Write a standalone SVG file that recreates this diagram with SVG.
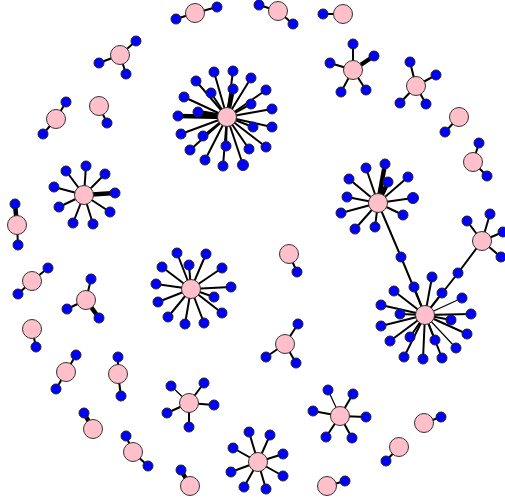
<svg xmlns="http://www.w3.org/2000/svg" width="505" height="502" viewBox="0 0 505 502">
<style>
.p{fill:#FFC0CB;stroke:#333;stroke-width:1}
.b{fill:#0000FF;stroke:#222;stroke-width:1}
.e line{stroke:#000;stroke-width:2}
.e line.t{stroke-width:4.5}
.e line.s{stroke-width:1.2}
</style>
<rect width="505" height="502" fill="#fff"/>
<g id="edges" class="e">
<line x1="195" y1="13" x2="176" y2="19"/><line x1="195" y1="13" x2="217" y2="7"/>
<line x1="278" y1="11" x2="259" y2="5"/><line x1="278" y1="11" x2="293" y2="24"/>
<line x1="343" y1="14" x2="323" y2="14"/>
<line x1="120" y1="55" x2="136" y2="41"/><line x1="120" y1="55" x2="99" y2="63"/><line x1="120" y1="55" x2="126" y2="74"/>
<line x1="99" y1="106" x2="107" y2="123"/>
<line x1="56" y1="119" x2="66" y2="102"/><line x1="56" y1="119" x2="43" y2="134"/>
<line x1="227" y1="117" x2="214" y2="72"/><line x1="227" y1="117" x2="233" y2="71"/><line x1="227" y1="117" x2="251" y2="78"/><line x1="227" y1="117" x2="266" y2="90"/><line x1="227" y1="117" x2="272" y2="109"/><line x1="227" y1="117" x2="272" y2="127"/><line x1="227" y1="117" x2="253" y2="127"/><line x1="227" y1="117" x2="251" y2="104"/><line x1="227" y1="117" x2="233" y2="89" class="t"/><line x1="227" y1="117" x2="211" y2="93"/><line x1="227" y1="117" x2="196" y2="81"/><line x1="227" y1="117" x2="184" y2="97"/><line x1="227" y1="117" x2="178" y2="116" class="t"/><line x1="227" y1="117" x2="198" y2="112" class="t"/><line x1="227" y1="117" x2="181" y2="134"/><line x1="227" y1="117" x2="203" y2="136"/><line x1="227" y1="117" x2="190" y2="150"/><line x1="227" y1="117" x2="226" y2="146"/><line x1="227" y1="117" x2="249" y2="149"/><line x1="227" y1="117" x2="266" y2="147"/><line x1="227" y1="117" x2="205" y2="160"/><line x1="227" y1="117" x2="223" y2="166"/><line x1="227" y1="117" x2="243" y2="165"/>
<line x1="84" y1="195" x2="86" y2="166"/><line x1="84" y1="195" x2="66" y2="171"/><line x1="84" y1="195" x2="105" y2="174"/><line x1="84" y1="195" x2="54" y2="187"/><line x1="84" y1="195" x2="115" y2="193" class="t"/><line x1="84" y1="195" x2="59" y2="207"/><line x1="84" y1="195" x2="110" y2="212"/><line x1="84" y1="195" x2="73" y2="223"/><line x1="84" y1="195" x2="93" y2="224"/>
<line x1="17" y1="225" x2="15" y2="204" class="t"/><line x1="17" y1="225" x2="18" y2="245"/>
<line x1="378" y1="203" x2="366" y2="168"/><line x1="378" y1="203" x2="385" y2="164" class="t"/><line x1="378" y1="203" x2="388" y2="182" class="t"/><line x1="378" y1="203" x2="349" y2="179"/><line x1="378" y1="203" x2="408" y2="177"/><line x1="378" y1="203" x2="347" y2="197"/><line x1="378" y1="203" x2="413" y2="198"/><line x1="378" y1="203" x2="341" y2="213"/><line x1="378" y1="203" x2="403" y2="215"/><line x1="378" y1="203" x2="355" y2="229"/><line x1="378" y1="203" x2="375" y2="227"/><line x1="378" y1="203" x2="401" y2="257"/>
<line x1="459" y1="117" x2="445" y2="132"/>
<line x1="473" y1="162" x2="479" y2="143"/><line x1="473" y1="162" x2="487" y2="176"/>
<line x1="353" y1="70" x2="353" y2="44"/><line x1="353" y1="70" x2="374" y2="56" class="t"/><line x1="353" y1="70" x2="341" y2="92"/><line x1="353" y1="70" x2="366" y2="90"/><line x1="353" y1="70" x2="330" y2="63"/>
<line x1="416" y1="86" x2="410" y2="62"/><line x1="416" y1="86" x2="436" y2="75"/><line x1="416" y1="86" x2="400" y2="103"/><line x1="416" y1="86" x2="426" y2="104"/>
<line x1="482" y1="241" x2="467" y2="221"/><line x1="482" y1="241" x2="490" y2="214"/><line x1="482" y1="241" x2="501" y2="257"/><line x1="482" y1="241" x2="503" y2="232"/><line x1="482" y1="241" x2="458" y2="273"/>
<line x1="425" y1="315" x2="401" y2="257"/><line x1="425" y1="315" x2="458" y2="273"/><line x1="425" y1="315" x2="432" y2="277"/><line x1="425" y1="315" x2="414" y2="287"/><line x1="425" y1="315" x2="442" y2="293"/><line x1="425" y1="315" x2="394" y2="291"/><line x1="425" y1="315" x2="462" y2="298" class="s"/><line x1="425" y1="315" x2="381" y2="305"/><line x1="425" y1="315" x2="400" y2="314"/><line x1="425" y1="315" x2="471" y2="314"/><line x1="425" y1="315" x2="451" y2="320"/><line x1="425" y1="315" x2="381" y2="326"/><line x1="425" y1="315" x2="467" y2="334"/><line x1="425" y1="315" x2="410" y2="337"/><line x1="425" y1="315" x2="435" y2="340"/><line x1="425" y1="315" x2="390" y2="341"/><line x1="425" y1="315" x2="456" y2="348" class="s"/><line x1="425" y1="315" x2="404" y2="357"/><line x1="425" y1="315" x2="423" y2="359"/><line x1="425" y1="315" x2="442" y2="358"/>
<line x1="191" y1="289" x2="177" y2="253"/><line x1="191" y1="289" x2="206" y2="254"/><line x1="191" y1="289" x2="189" y2="265"/><line x1="191" y1="289" x2="222" y2="268"/><line x1="191" y1="289" x2="231" y2="287"/><line x1="191" y1="289" x2="214" y2="297"/><line x1="191" y1="289" x2="222" y2="313"/><line x1="191" y1="289" x2="168" y2="317"/><line x1="191" y1="289" x2="185" y2="324"/><line x1="191" y1="289" x2="204" y2="323"/><line x1="191" y1="289" x2="162" y2="267"/><line x1="191" y1="289" x2="156" y2="284"/><line x1="191" y1="289" x2="158" y2="302"/>
<line x1="289" y1="254" x2="297" y2="272"/>
<line x1="285" y1="344" x2="298" y2="324"/><line x1="285" y1="344" x2="266" y2="357"/><line x1="285" y1="344" x2="296" y2="363"/>
<line x1="32" y1="281" x2="48" y2="268"/><line x1="32" y1="281" x2="18" y2="294"/>
<line x1="86" y1="300" x2="91" y2="279"/><line x1="86" y1="300" x2="67" y2="309"/><line x1="86" y1="300" x2="99" y2="318" class="t"/>
<line x1="32" y1="329" x2="36" y2="347"/>
<line x1="66" y1="372" x2="76" y2="355"/><line x1="66" y1="372" x2="56" y2="389"/>
<line x1="118" y1="374" x2="118" y2="357"/><line x1="118" y1="374" x2="121" y2="396"/>
<line x1="93" y1="429" x2="84" y2="413" class="t"/>
<line x1="133" y1="452" x2="126" y2="436"/><line x1="133" y1="452" x2="148" y2="466"/>
<line x1="189" y1="403" x2="171" y2="386" class="s"/><line x1="189" y1="403" x2="204" y2="383"/><line x1="189" y1="403" x2="214" y2="405"/><line x1="189" y1="403" x2="167" y2="413"/><line x1="189" y1="403" x2="189" y2="427"/>
<line x1="258" y1="462" x2="249" y2="432"/><line x1="258" y1="462" x2="270" y2="435"/><line x1="258" y1="462" x2="233" y2="448"/><line x1="258" y1="462" x2="283" y2="454"/><line x1="258" y1="462" x2="231" y2="472"/><line x1="258" y1="462" x2="283" y2="476"/><line x1="258" y1="462" x2="244" y2="487"/><line x1="258" y1="462" x2="266" y2="489"/>
<line x1="190" y1="486" x2="181" y2="470" class="t"/>
<line x1="340" y1="416" x2="353" y2="394"/><line x1="340" y1="416" x2="366" y2="417"/><line x1="340" y1="416" x2="352" y2="438"/><line x1="340" y1="416" x2="328" y2="390" class="s"/><line x1="340" y1="416" x2="313" y2="411"/><line x1="340" y1="416" x2="326" y2="437"/>
<line x1="424" y1="423" x2="441" y2="417"/>
<line x1="399" y1="447" x2="386" y2="461"/>
<line x1="327" y1="486" x2="345" y2="481"/>
</g>
<g id="n1"><circle class="p" cx="195" cy="13" r="9.5"/></g>
<g id="n1a"><circle class="b" cx="176" cy="19" r="5"/></g>
<g id="n1b"><circle class="b" cx="217" cy="7" r="5"/></g>
<g id="n2"><circle class="p" cx="278" cy="11" r="9.5"/></g>
<g id="n2a"><circle class="b" cx="259" cy="5" r="5"/></g>
<g id="n2b"><circle class="b" cx="293" cy="24" r="5"/></g>
<g id="n3"><circle class="p" cx="343" cy="14" r="9.5"/></g>
<g id="n3a"><circle class="b" cx="323" cy="14" r="5"/></g>
<g id="n4"><circle class="p" cx="120" cy="55" r="9.5"/></g>
<g id="n4a"><circle class="b" cx="136" cy="41" r="5"/></g>
<g id="n4b"><circle class="b" cx="99" cy="63" r="5"/></g>
<g id="n4c"><circle class="b" cx="126" cy="74" r="5"/></g>
<g id="n5"><circle class="p" cx="99" cy="106" r="9.5"/></g>
<g id="n5a"><circle class="b" cx="107" cy="123" r="5"/></g>
<g id="n6"><circle class="p" cx="56" cy="119" r="9.5"/></g>
<g id="n6a"><circle class="b" cx="66" cy="102" r="5"/></g>
<g id="n6b"><circle class="b" cx="43" cy="134" r="5"/></g>
<g id="n7"><circle class="p" cx="227" cy="117" r="9.5"/></g>
<g id="n7a"><circle class="b" cx="214" cy="72" r="5"/></g>
<g id="n7b"><circle class="b" cx="233" cy="71" r="5"/></g>
<g id="n7c"><circle class="b" cx="251" cy="78" r="5"/></g>
<g id="n7d"><circle class="b" cx="266" cy="90" r="5"/></g>
<g id="n7e"><circle class="b" cx="272" cy="109" r="5"/></g>
<g id="n7f"><circle class="b" cx="272" cy="127" r="5"/></g>
<g id="n7g"><circle class="b" cx="253" cy="127" r="5"/></g>
<g id="n7h"><circle class="b" cx="251" cy="104" r="5"/></g>
<g id="n7i"><circle class="b" cx="233" cy="89" r="5"/></g>
<g id="n7j"><circle class="b" cx="211" cy="93" r="5"/></g>
<g id="n7k"><circle class="b" cx="196" cy="81" r="5"/></g>
<g id="n7l"><circle class="b" cx="184" cy="97" r="5"/></g>
<g id="n7m"><circle class="b" cx="178" cy="116" r="5"/></g>
<g id="n7n"><circle class="b" cx="198" cy="112" r="5"/></g>
<g id="n7o"><circle class="b" cx="181" cy="134" r="5"/></g>
<g id="n7p"><circle class="b" cx="203" cy="136" r="5"/></g>
<g id="n7q"><circle class="b" cx="190" cy="150" r="5"/></g>
<g id="n7r"><circle class="b" cx="226" cy="146" r="5"/></g>
<g id="n7s"><circle class="b" cx="249" cy="149" r="5"/></g>
<g id="n7t"><circle class="b" cx="266" cy="147" r="5"/></g>
<g id="n7u"><circle class="b" cx="205" cy="160" r="5"/></g>
<g id="n7v"><circle class="b" cx="223" cy="166" r="5"/></g>
<g id="n7w"><circle class="b" cx="243" cy="165" r="5.5"/></g>
<g id="n8"><circle class="p" cx="84" cy="195" r="9.5"/></g>
<g id="n8a"><circle class="b" cx="86" cy="166" r="5"/></g>
<g id="n8b"><circle class="b" cx="66" cy="171" r="5"/></g>
<g id="n8c"><circle class="b" cx="105" cy="174" r="5"/></g>
<g id="n8d"><circle class="b" cx="54" cy="187" r="5"/></g>
<g id="n8e"><circle class="b" cx="115" cy="193" r="5"/></g>
<g id="n8f"><circle class="b" cx="59" cy="207" r="5"/></g>
<g id="n8g"><circle class="b" cx="110" cy="212" r="5"/></g>
<g id="n8h"><circle class="b" cx="73" cy="223" r="5"/></g>
<g id="n8i"><circle class="b" cx="93" cy="224" r="5"/></g>
<g id="n9"><circle class="p" cx="17" cy="225" r="9.5"/></g>
<g id="n9a"><circle class="b" cx="15" cy="204" r="5"/></g>
<g id="n9b"><circle class="b" cx="18" cy="245" r="5"/></g>
<g id="n10"><circle class="p" cx="378" cy="203" r="9.5"/></g>
<g id="n10a"><circle class="b" cx="366" cy="168" r="5"/></g>
<g id="n10b"><circle class="b" cx="385" cy="164" r="5"/></g>
<g id="n10c"><circle class="b" cx="388" cy="182" r="5"/></g>
<g id="n10d"><circle class="b" cx="349" cy="179" r="5"/></g>
<g id="n10e"><circle class="b" cx="408" cy="177" r="5"/></g>
<g id="n10f"><circle class="b" cx="347" cy="197" r="5"/></g>
<g id="n10g"><circle class="b" cx="413" cy="198" r="5.5"/></g>
<g id="n10h"><circle class="b" cx="341" cy="213" r="5"/></g>
<g id="n10i"><circle class="b" cx="403" cy="215" r="5"/></g>
<g id="n10j"><circle class="b" cx="355" cy="229" r="5"/></g>
<g id="n10k"><circle class="b" cx="375" cy="227" r="5"/></g>
<g id="n10l"><circle class="b" cx="401" cy="257" r="5"/></g>
<g id="n11"><circle class="p" cx="459" cy="117" r="9.5"/></g>
<g id="n11a"><circle class="b" cx="445" cy="132" r="5"/></g>
<g id="n12"><circle class="p" cx="473" cy="162" r="9.5"/></g>
<g id="n12a"><circle class="b" cx="479" cy="143" r="5"/></g>
<g id="n12b"><circle class="b" cx="487" cy="176" r="5"/></g>
<g id="n13"><circle class="p" cx="353" cy="70" r="9.5"/></g>
<g id="n13a"><circle class="b" cx="353" cy="44" r="5"/></g>
<g id="n13b"><circle class="b" cx="374" cy="56" r="5"/></g>
<g id="n13c"><circle class="b" cx="341" cy="92" r="5"/></g>
<g id="n13d"><circle class="b" cx="366" cy="90" r="5"/></g>
<g id="n13e"><circle class="b" cx="330" cy="63" r="5"/></g>
<g id="n14"><circle class="p" cx="416" cy="86" r="9.5"/></g>
<g id="n14a"><circle class="b" cx="410" cy="62" r="5"/></g>
<g id="n14b"><circle class="b" cx="436" cy="75" r="5"/></g>
<g id="n14c"><circle class="b" cx="400" cy="103" r="5"/></g>
<g id="n14d"><circle class="b" cx="426" cy="104" r="5"/></g>
<g id="n15"><circle class="p" cx="482" cy="241" r="9.5"/></g>
<g id="n15a"><circle class="b" cx="467" cy="221" r="5"/></g>
<g id="n15b"><circle class="b" cx="490" cy="214" r="5"/></g>
<g id="n15c"><circle class="b" cx="501" cy="257" r="5"/></g>
<g id="n15d"><circle class="b" cx="503" cy="232" r="5"/></g>
<g id="n15e"><circle class="b" cx="458" cy="273" r="5"/></g>
<g id="n16"><circle class="p" cx="425" cy="315" r="9.5"/></g>
<g id="n16a"><circle class="b" cx="432" cy="277" r="5"/></g>
<g id="n16b"><circle class="b" cx="414" cy="287" r="5"/></g>
<g id="n16c"><circle class="b" cx="442" cy="293" r="5"/></g>
<g id="n16d"><circle class="b" cx="394" cy="291" r="5"/></g>
<g id="n16e"><circle class="b" cx="462" cy="298" r="5"/></g>
<g id="n16f"><circle class="b" cx="381" cy="305" r="5"/></g>
<g id="n16g"><circle class="b" cx="400" cy="314" r="5"/></g>
<g id="n16h"><circle class="b" cx="471" cy="314" r="5"/></g>
<g id="n16i"><circle class="b" cx="451" cy="320" r="5"/></g>
<g id="n16j"><circle class="b" cx="381" cy="326" r="5"/></g>
<g id="n16k"><circle class="b" cx="467" cy="334" r="5"/></g>
<g id="n16l"><circle class="b" cx="410" cy="337" r="5"/></g>
<g id="n16m"><circle class="b" cx="435" cy="340" r="5"/></g>
<g id="n16n"><circle class="b" cx="390" cy="341" r="5"/></g>
<g id="n16o"><circle class="b" cx="456" cy="348" r="5"/></g>
<g id="n16p"><circle class="b" cx="404" cy="357" r="5"/></g>
<g id="n16q"><circle class="b" cx="423" cy="359" r="5"/></g>
<g id="n16r"><circle class="b" cx="442" cy="358" r="5"/></g>
<g id="n17"><circle class="p" cx="191" cy="289" r="9.5"/></g>
<g id="n17a"><circle class="b" cx="177" cy="253" r="5"/></g>
<g id="n17b"><circle class="b" cx="206" cy="254" r="5"/></g>
<g id="n17c"><circle class="b" cx="189" cy="265" r="5"/></g>
<g id="n17d"><circle class="b" cx="222" cy="268" r="5"/></g>
<g id="n17e"><circle class="b" cx="231" cy="287" r="5"/></g>
<g id="n17f"><circle class="b" cx="214" cy="297" r="5"/></g>
<g id="n17g"><circle class="b" cx="222" cy="313" r="5"/></g>
<g id="n17h"><circle class="b" cx="168" cy="317" r="5"/></g>
<g id="n17i"><circle class="b" cx="185" cy="324" r="5"/></g>
<g id="n17j"><circle class="b" cx="204" cy="323" r="5"/></g>
<g id="n17k"><circle class="b" cx="162" cy="267" r="5"/></g>
<g id="n17l"><circle class="b" cx="156" cy="284" r="5"/></g>
<g id="n17m"><circle class="b" cx="158" cy="302" r="5"/></g>
<g id="n18"><circle class="p" cx="289" cy="254" r="9.5"/></g>
<g id="n18a"><circle class="b" cx="297" cy="272" r="5"/></g>
<g id="n19"><circle class="p" cx="285" cy="344" r="9.5"/></g>
<g id="n19a"><circle class="b" cx="298" cy="324" r="5"/></g>
<g id="n19b"><circle class="b" cx="266" cy="357" r="5"/></g>
<g id="n19c"><circle class="b" cx="296" cy="363" r="5"/></g>
<g id="n20"><circle class="p" cx="32" cy="281" r="9.5"/></g>
<g id="n20a"><circle class="b" cx="48" cy="268" r="5"/></g>
<g id="n20b"><circle class="b" cx="18" cy="294" r="5"/></g>
<g id="n21"><circle class="p" cx="86" cy="300" r="9.5"/></g>
<g id="n21a"><circle class="b" cx="91" cy="279" r="5"/></g>
<g id="n21b"><circle class="b" cx="67" cy="309" r="5"/></g>
<g id="n21c"><circle class="b" cx="99" cy="318" r="5"/></g>
<g id="n22"><circle class="p" cx="32" cy="329" r="9.5"/></g>
<g id="n22a"><circle class="b" cx="36" cy="347" r="5"/></g>
<g id="n23"><circle class="p" cx="66" cy="372" r="9.5"/></g>
<g id="n23a"><circle class="b" cx="76" cy="355" r="5"/></g>
<g id="n23b"><circle class="b" cx="56" cy="389" r="5"/></g>
<g id="n24"><circle class="p" cx="118" cy="374" r="9.5"/></g>
<g id="n24a"><circle class="b" cx="118" cy="357" r="5"/></g>
<g id="n24b"><circle class="b" cx="121" cy="396" r="5"/></g>
<g id="n25"><circle class="p" cx="93" cy="429" r="9.5"/></g>
<g id="n25a"><circle class="b" cx="84" cy="413" r="5"/></g>
<g id="n26"><circle class="p" cx="133" cy="452" r="9.5"/></g>
<g id="n26a"><circle class="b" cx="126" cy="436" r="5"/></g>
<g id="n26b"><circle class="b" cx="148" cy="466" r="5"/></g>
<g id="n27"><circle class="p" cx="189" cy="403" r="9.5"/></g>
<g id="n27a"><circle class="b" cx="171" cy="386" r="5"/></g>
<g id="n27b"><circle class="b" cx="204" cy="383" r="5"/></g>
<g id="n27c"><circle class="b" cx="214" cy="405" r="5"/></g>
<g id="n27d"><circle class="b" cx="167" cy="413" r="5"/></g>
<g id="n27e"><circle class="b" cx="189" cy="427" r="5"/></g>
<g id="n28"><circle class="p" cx="258" cy="462" r="9.5"/></g>
<g id="n28a"><circle class="b" cx="249" cy="432" r="5"/></g>
<g id="n28b"><circle class="b" cx="270" cy="435" r="5"/></g>
<g id="n28c"><circle class="b" cx="233" cy="448" r="5"/></g>
<g id="n28d"><circle class="b" cx="283" cy="454" r="5"/></g>
<g id="n28e"><circle class="b" cx="231" cy="472" r="5"/></g>
<g id="n28f"><circle class="b" cx="283" cy="476" r="5"/></g>
<g id="n28g"><circle class="b" cx="244" cy="487" r="5"/></g>
<g id="n28h"><circle class="b" cx="266" cy="489" r="5"/></g>
<g id="n29"><circle class="p" cx="190" cy="486" r="9.5"/></g>
<g id="n29a"><circle class="b" cx="181" cy="470" r="5"/></g>
<g id="n30"><circle class="p" cx="340" cy="416" r="9.5"/></g>
<g id="n30a"><circle class="b" cx="353" cy="394" r="5"/></g>
<g id="n30b"><circle class="b" cx="366" cy="417" r="5"/></g>
<g id="n30c"><circle class="b" cx="352" cy="438" r="5"/></g>
<g id="n30d"><circle class="b" cx="328" cy="390" r="5"/></g>
<g id="n30e"><circle class="b" cx="313" cy="411" r="5"/></g>
<g id="n30f"><circle class="b" cx="326" cy="437" r="5"/></g>
<g id="n31"><circle class="p" cx="424" cy="423" r="9.5"/></g>
<g id="n31a"><circle class="b" cx="441" cy="417" r="5"/></g>
<g id="n32"><circle class="p" cx="399" cy="447" r="9.5"/></g>
<g id="n32a"><circle class="b" cx="386" cy="461" r="5"/></g>
<g id="n33"><circle class="p" cx="327" cy="486" r="9.5"/></g>
<g id="n33a"><circle class="b" cx="345" cy="481" r="5"/></g>
</svg>
